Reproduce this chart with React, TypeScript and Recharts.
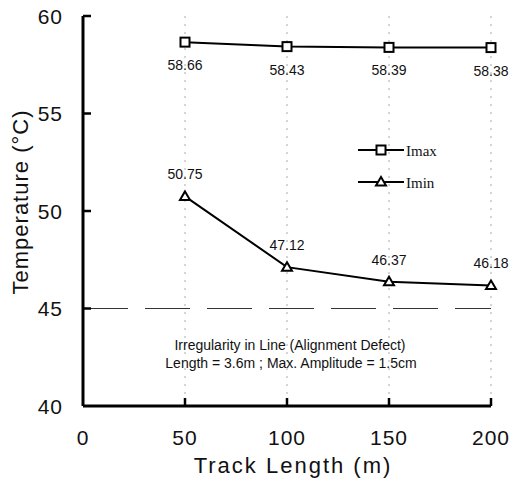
import React from 'react';
import { LineChart, Line, XAxis, YAxis, CartesianGrid, ReferenceLine, LabelList, Customized } from 'recharts';

const trackLength = [50, 100, 150, 200];
const tmaxValues = [58.66, 58.43, 58.39, 58.38];
const tminValues = [50.75, 47.12, 46.37, 46.18];
const xTicks = [0, 50, 100, 150, 200];
const yTicks = [40, 45, 50, 55, 60];
const legendNames = ['Imax', 'Imin'];
const noteLines = ['Irregularity in Line (Alignment Defect)', 'Length = 3.6m ; Max. Amplitude = 1.5cm'];
const xTitle = 'Track Length (m)';
const yTitle = 'Temperature (°C)';
const defectLevel = 45;

const data = trackLength.map((x, i) => ({ x, tmax: tmaxValues[i], tmin: tminValues[i] }));

const SANS = 'Arial, "Liberation Sans", sans-serif';
const SERIF = '"Liberation Serif", "Times New Roman", serif';

const SquareDot = (props: any) => {
  const { cx, cy } = props;
  if (cx == null || cy == null) return <g key={props.key} />;
  return <rect key={props.key} x={cx - 4.5} y={cy - 4.5} width={9} height={9} fill="#fff" stroke="#000" strokeWidth={2} />;
};

const TriDot = (props: any) => {
  const { cx, cy } = props;
  if (cx == null || cy == null) return <g key={props.key} />;
  return (
    <polygon key={props.key} points={`${cx},${cy - 5} ${cx - 5},${cy + 3.5} ${cx + 5},${cy + 3.5}`} fill="#fff" stroke="#000" strokeWidth={2} />
  );
};

const XTick = (props: any) => {
  const { x, y, payload } = props;
  return (
    <g>
      {payload.value !== 0 && <line x1={x} y1={y} x2={x} y2={y - 8} stroke="#000" strokeWidth={2.5} />}
      <text x={x} y={y + 31} textAnchor="middle" dominantBaseline="central" fontFamily={SANS} fontSize={21} letterSpacing={1} fill="#111">
        {payload.value}
      </text>
    </g>
  );
};

const YTick = (props: any) => {
  const { x, y, payload } = props;
  return (
    <g>
      {payload.value !== 40 && <line x1={x} y1={y} x2={x + 8} y2={y} stroke="#000" strokeWidth={2.5} />}
      <text x={x - 20} y={y} textAnchor="end" dominantBaseline="central" fontFamily={SANS} fontSize={21} letterSpacing={1} fill="#111">
        {payload.value}
      </text>
    </g>
  );
};

const BelowLabel = (props: any) => {
  const { x, y, value } = props;
  return (
    <text x={x} y={y + 23} textAnchor="middle" dominantBaseline="central" fontFamily={SANS} fontSize={14} fill="#111">
      {Number(value).toFixed(2)}
    </text>
  );
};

const AboveLabel = (props: any) => {
  const { x, y, value } = props;
  return (
    <text x={x} y={y - 22} textAnchor="middle" dominantBaseline="central" fontFamily={SANS} fontSize={14} fill="#111">
      {Number(value).toFixed(2)}
    </text>
  );
};

const Decorations = () => (
  <g>
    {/* legend */}
    <line x1={358} y1={150} x2={404} y2={150} stroke="#000" strokeWidth={2} />
    <rect x={376.5} y={145.5} width={9} height={9} fill="#fff" stroke="#000" strokeWidth={2} />
    <text x={406} y={151} dominantBaseline="central" fontFamily={SERIF} fontSize={15} fill="#111">
      {legendNames[0]}
    </text>
    <line x1={358} y1={182} x2={404} y2={182} stroke="#000" strokeWidth={2} />
    <polygon points="381,177 376,185.5 386,185.5" fill="#fff" stroke="#000" strokeWidth={2} />
    <text x={406} y={183} dominantBaseline="central" fontFamily={SERIF} fontSize={15} fill="#111">
      {legendNames[1]}
    </text>
    {/* note */}
    <text x={290} y={345} textAnchor="middle" dominantBaseline="central" fontFamily={SANS} fontSize={14} fill="#111">
      {noteLines[0]}
    </text>
    <text x={291} y={363} textAnchor="middle" dominantBaseline="central" fontFamily={SANS} fontSize={14} fill="#111">
      {noteLines[1]}
    </text>
    {/* axis titles */}
    <text x={293} y={465} textAnchor="middle" dominantBaseline="central" fontFamily={SANS} fontSize={22} letterSpacing={2} fill="#111">
      {xTitle}
    </text>
    <text
      x={20}
      y={202}
      transform="rotate(-90 20 202)"
      textAnchor="middle"
      dominantBaseline="central"
      fontFamily={SANS}
      fontSize={22}
      letterSpacing={1}
      fill="#111"
    >
      {yTitle}
    </text>
  </g>
);

export default function App() {
  return (
    <div style={{ position: 'absolute', left: 0, top: 0, background: '#fff' }}>
      <LineChart width={509} height={478} data={data} margin={{ top: 16, right: 18, bottom: 22, left: 23 }}>
        <CartesianGrid horizontal={false} stroke="#aaa" strokeDasharray="2 6" />
        <XAxis
          type="number"
          dataKey="x"
          domain={[0, 200]}
          ticks={xTicks}
          height={50}
          tickSize={0}
          tickMargin={0}
          tick={<XTick />}
          axisLine={{ stroke: '#000', strokeWidth: 3 }}
          tickLine={false}
          interval={0}
        />
        <YAxis
          type="number"
          domain={[40, 60]}
          ticks={yTicks}
          width={60}
          tickSize={0}
          tickMargin={0}
          tick={<YTick />}
          axisLine={{ stroke: '#000', strokeWidth: 3 }}
          tickLine={false}
          interval={0}
        />
        <ReferenceLine y={defectLevel} stroke="#333" strokeWidth={1.2} strokeDasharray="45 17" />
        <Line type="linear" dataKey="tmax" stroke="#000" strokeWidth={2} dot={SquareDot} isAnimationActive={false}>
          <LabelList dataKey="tmax" content={BelowLabel} />
        </Line>
        <Line type="linear" dataKey="tmin" stroke="#000" strokeWidth={2} dot={TriDot} isAnimationActive={false}>
          <LabelList dataKey="tmin" content={AboveLabel} />
        </Line>
        <Customized component={Decorations} />
      </LineChart>
    </div>
  );
}
